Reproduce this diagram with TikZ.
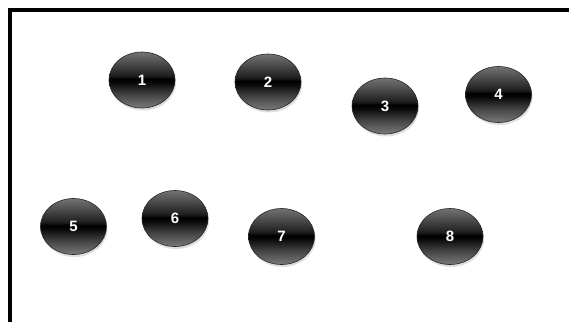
\documentclass[tikz,border=0pt]{standalone}
\usepackage{fontspec}
\setmainfont{Liberation Sans}
\usetikzlibrary{shadows,shapes.geometric}
\pgfdeclareverticalshading{glossyball}{100bp}{%
  color(0bp)=(black!52);
  color(25bp)=(black!52);
  color(38bp)=(black!75);
  color(48bp)=(black!97);
  color(51bp)=(black);
  color(54bp)=(black!88);
  color(64bp)=(black!72);
  color(75bp)=(black!55);
  color(100bp)=(black!55)}
\tikzset{
  ball/.style={ellipse, minimum width=66pt, minimum height=56pt, inner sep=0pt,
    draw=black!85, line width=0.6pt, shading=glossyball,
    drop shadow={opacity=0.25, shadow xshift=1pt, shadow yshift=-2.5pt},
    text=white, font=\bfseries\fontsize{15}{15}\selectfont},
  framebar/.style={line width=4pt, draw=black}
}
\begin{document}
\begin{tikzpicture}[x=1pt,y=-1pt]
\useasboundingbox (0,0) rectangle (569,322);
\fill[white] (0,0) rectangle (569,322);
\coordinate (tr) at (569,10);
\coordinate (bl) at (10,322);
\draw[framebar, line cap=butt] (tr) -- (8,10) -- (10,10) -- (bl);
\node[ball] (n1) at (142,80) {1};
\node[ball] (n2) at (268,82) {2};
\node[ball] (n3) at (385,106) {3};
\node[ball] (n4) at (498.5,94.5) {4};
\node[ball] (n5) at (73.5,226.5) {5};
\node[ball] (n6) at (175,218.5) {6};
\node[ball] (n7) at (281.5,236.5) {7};
\node[ball] (n8) at (450,236.5) {8};
\end{tikzpicture}
\end{document}
